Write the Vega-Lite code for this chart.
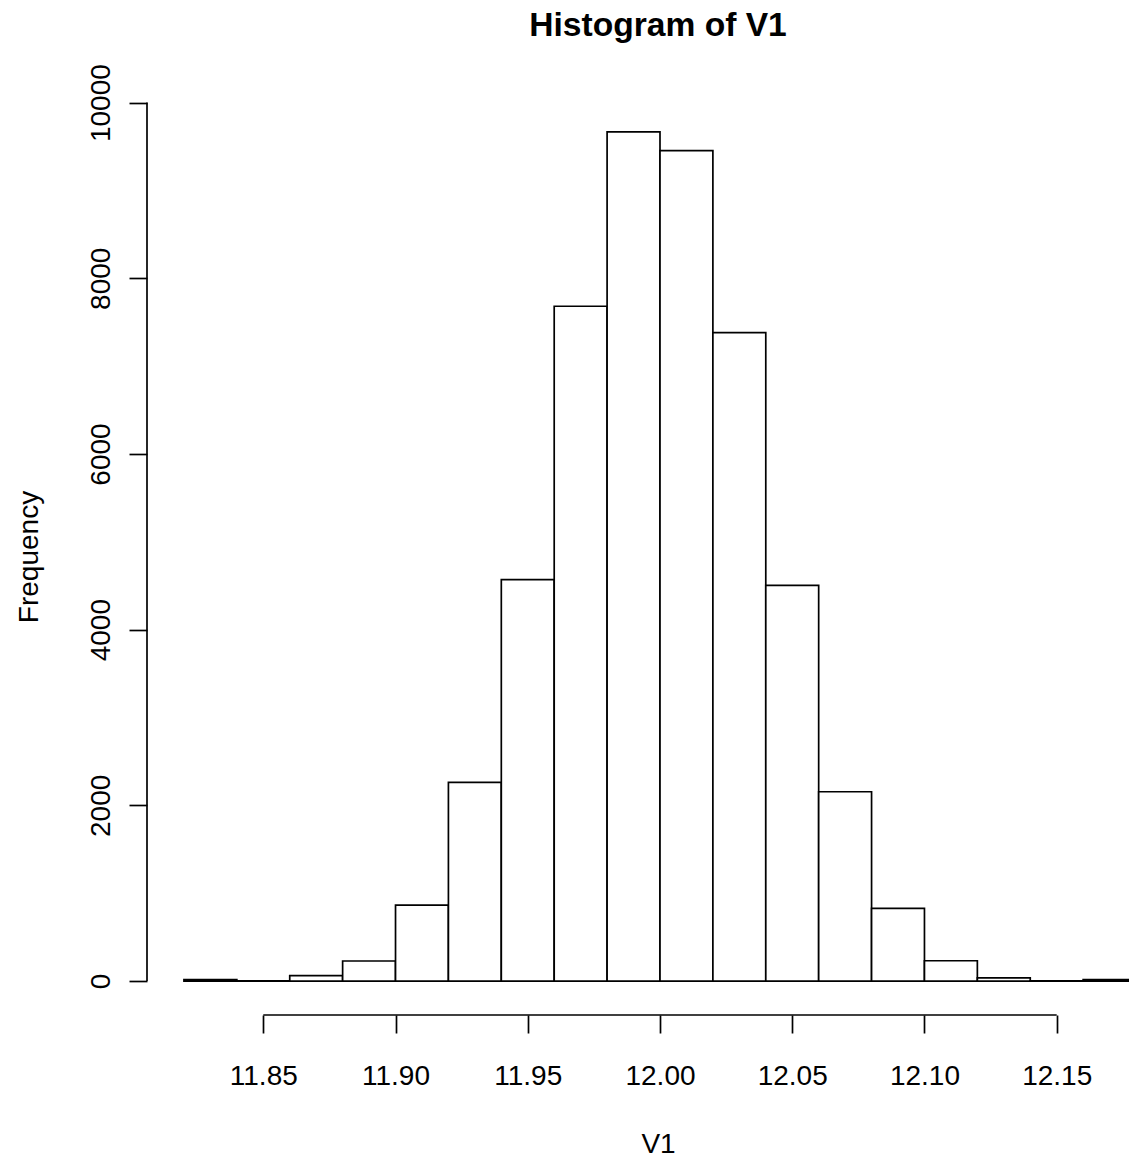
{
  "$schema": "https://vega.github.io/schema/vega-lite/v6.json",
  "width": 982,
  "height": 917,
  "autosize": {"type": "none"},
  "padding": {"left": 147, "top": 98, "right": 0, "bottom": 148},
  "background": "white",
  "title": {
    "text": "Histogram of V1",
    "font": "Liberation Sans",
    "fontSize": 33.6,
    "fontWeight": "bold",
    "color": "black",
    "anchor": "middle",
    "dx": 20,
    "offset": 21
  },
  "config": {"view": {"stroke": null}},
  "data": {
    "values": [
      {"bin_start": 11.82, "bin_end": 11.84, "count": 15},
      {"bin_start": 11.84, "bin_end": 11.86, "count": 3},
      {"bin_start": 11.86, "bin_end": 11.88, "count": 61},
      {"bin_start": 11.88, "bin_end": 11.90, "count": 228},
      {"bin_start": 11.90, "bin_end": 11.92, "count": 865},
      {"bin_start": 11.92, "bin_end": 11.94, "count": 2262},
      {"bin_start": 11.94, "bin_end": 11.96, "count": 4569},
      {"bin_start": 11.96, "bin_end": 11.98, "count": 7682},
      {"bin_start": 11.98, "bin_end": 12.00, "count": 9666},
      {"bin_start": 12.00, "bin_end": 12.02, "count": 9453},
      {"bin_start": 12.02, "bin_end": 12.04, "count": 7381},
      {"bin_start": 12.04, "bin_end": 12.06, "count": 4505},
      {"bin_start": 12.06, "bin_end": 12.08, "count": 2155},
      {"bin_start": 12.08, "bin_end": 12.10, "count": 828},
      {"bin_start": 12.10, "bin_end": 12.12, "count": 231},
      {"bin_start": 12.12, "bin_end": 12.14, "count": 35},
      {"bin_start": 12.14, "bin_end": 12.16, "count": 3},
      {"bin_start": 12.16, "bin_end": 12.18, "count": 15}
    ]
  },
  "layer": [
    {
      "mark": {"type": "rect", "fill": "white", "stroke": "black", "strokeWidth": 1.7, "clip": true},
      "encoding": {
        "x": {
          "field": "bin_start",
          "type": "quantitative",
          "scale": {"domain": [11.80603, 12.17734], "nice": false, "zero": false},
          "axis": {
            "values": [11.85, 11.9, 11.95, 12, 12.05, 12.1, 12.15],
            "format": ".2f",
            "domain": false,
            "grid": false,
            "tickSize": 18,
            "tickColor": "black",
            "tickWidth": 1.7,
            "labelFont": "Liberation Sans",
            "labelFontSize": 28,
            "labelColor": "black",
            "labelPadding": 29,
            "labelFlush": false,
            "labelOverlap": false,
            "title": "V1",
            "titleFont": "Liberation Sans",
            "titleFontSize": 28,
            "titleFontWeight": "normal",
            "titleColor": "black",
            "titlePadding": 40,
            "titleX": 511
          }
        },
        "x2": {"field": "bin_end"},
        "y": {
          "field": "count",
          "type": "quantitative",
          "scale": {"domain": [-386.6, 10052.6], "nice": false, "zero": false},
          "axis": {
            "values": [0, 2000, 4000, 6000, 8000, 10000],
            "format": "d",
            "domain": false,
            "grid": false,
            "tickSize": 18,
            "tickColor": "black",
            "tickWidth": 1.7,
            "labelAngle": -90,
            "labelAlign": "center",
            "labelBaseline": "bottom",
            "labelFont": "Liberation Sans",
            "labelFontSize": 28,
            "labelColor": "black",
            "labelPadding": 14,
            "labelFlush": false,
            "labelOverlap": false,
            "title": "Frequency",
            "titleFont": "Liberation Sans",
            "titleFontSize": 28,
            "titleFontWeight": "normal",
            "titleColor": "black",
            "titlePadding": 44
          }
        },
        "y2": {"datum": 0}
      }
    },
    {
      "data": {"values": [{}]},
      "mark": {"type": "rule", "color": "black", "strokeWidth": 1.7},
      "encoding": {
        "x": {"datum": 11.85},
        "x2": {"datum": 12.15},
        "y": {"datum": -386.6}
      }
    },
    {
      "data": {"values": [{}]},
      "mark": {"type": "rule", "color": "black", "strokeWidth": 1.7},
      "encoding": {
        "x": {"datum": 11.80603},
        "y": {"datum": 0},
        "y2": {"datum": 10000}
      }
    }
  ]
}
